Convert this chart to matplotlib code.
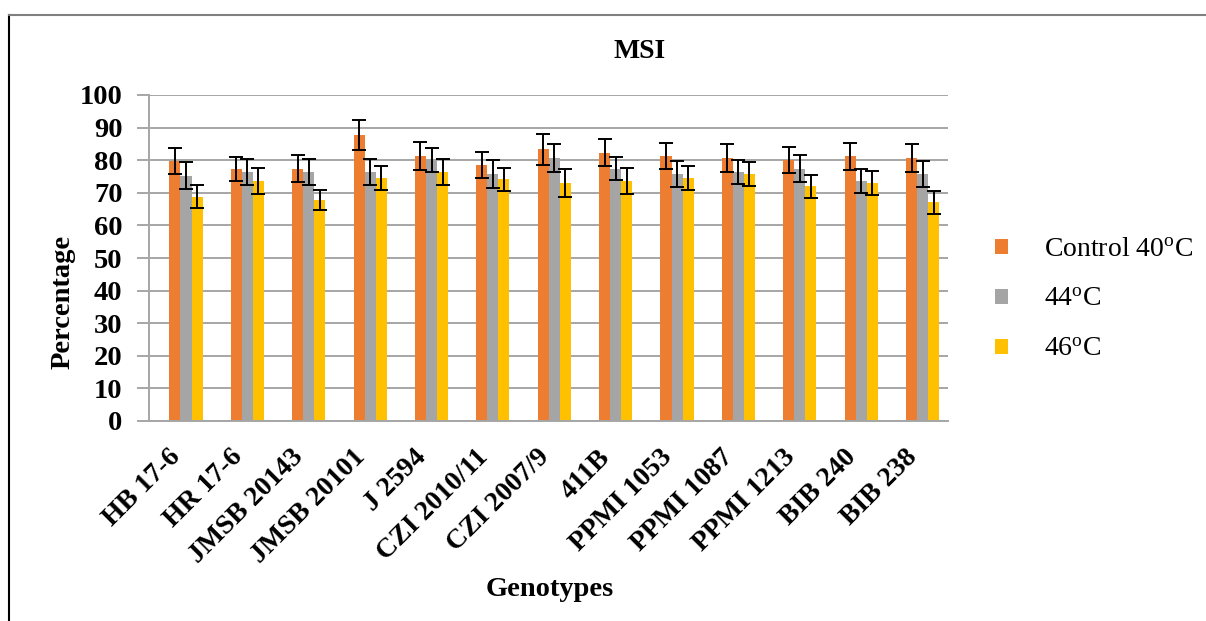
import matplotlib
matplotlib.use("Agg")
import matplotlib.pyplot as plt
import numpy as np
from matplotlib.patches import Patch
from matplotlib.lines import Line2D

plt.rcParams['font.family'] = ['Liberation Serif', 'DejaVu Serif']
plt.rcParams['mathtext.fontset'] = 'custom'
plt.rcParams['mathtext.rm'] = 'Liberation Serif'
plt.rcParams['mathtext.it'] = 'Liberation Serif:italic'
plt.rcParams['mathtext.bf'] = 'Liberation Serif:bold'

genotypes = ["HB 17-6", "HR 17-6", "JMSB 20143", "JMSB 20101", "J 2594", "CZI 2010/11",
             "CZI 2007/9", "411B", "PPMI 1053", "PPMI 1087", "PPMI 1213", "BIB 240", "BIB 238"]
control_40 = [79.8, 77.4, 77.4, 87.7, 81.3, 78.5, 83.3, 82.3, 81.3, 80.7, 80.1, 81.2, 80.7]
control_40_err = [4.0, 3.7, 4.2, 4.7, 4.2, 4.1, 4.8, 4.2, 4.1, 4.2, 4.1, 4.2, 4.2]
temp_44 = [75.3, 76.4, 76.4, 76.4, 80.1, 75.8, 80.7, 77.4, 75.8, 76.3, 77.4, 73.6, 75.8]
temp_44_err = [4.2, 4.0, 4.0, 4.0, 3.7, 4.2, 4.2, 3.6, 4.1, 3.7, 4.1, 3.6, 4.1]
temp_46 = [68.8, 73.6, 67.7, 74.6, 76.4, 74.1, 73.0, 73.6, 74.6, 75.8, 72.0, 73.0, 67.1]
temp_46_err = [3.5, 4.1, 3.1, 3.6, 4.0, 3.6, 4.2, 4.0, 3.6, 3.6, 3.5, 3.7, 3.6]
series_labels = ["Control 40$^{\\mathrm{o}}$C", "44$^{\\mathrm{o}}$C", "46$^{\\mathrm{o}}$C"]
yticks = [0, 10, 20, 30, 40, 50, 60, 70, 80, 90, 100]

colors = ["#ED7D31", "#A5A5A5", "#FFC000"]

W, H = 1206, 621
fig = plt.figure(figsize=(W / 100, H / 100), dpi=100)
ax = fig.add_axes([149 / W, 1 - 421 / H, (948 - 149) / W, (421 - 95) / H])

x = np.arange(len(genotypes))
bw = 0.18
data = [(control_40, control_40_err), (temp_44, temp_44_err), (temp_46, temp_46_err)]
for i, ((vals, errs), c) in enumerate(zip(data, colors)):
    ax.bar(x + (i - 1) * bw, vals, width=bw, color=c, zorder=2)
    ax.errorbar(x + (i - 1) * bw, vals, yerr=errs, fmt='none', ecolor='black',
                elinewidth=1.4, capsize=4.7, capthick=1.4, zorder=3)

ax.set_xlim(-0.603, 12.414)
ax.set_ylim(0, 100)
ax.set_yticks(yticks)
ax.set_yticklabels([str(v) for v in yticks], fontsize=20.5, fontweight='bold')
ax.yaxis.grid(True, color='#A6A6A6', linewidth=1.4, zorder=0)
ax.set_axisbelow(True)
ax.set_xticks(x)
ax.set_xticklabels(genotypes, rotation=45, ha='right', va='top', fontsize=20, fontweight='bold')
ax.tick_params(axis='x', length=0, pad=17)
ax.tick_params(axis='y', length=9, width=1.4, color='#A6A6A6', pad=10)
for s in ['top', 'right']:
    ax.spines[s].set_visible(False)
for s in ['left', 'bottom']:
    ax.spines[s].set_color('#A6A6A6')
    ax.spines[s].set_linewidth(1.4)

fig.text(640 / W, 1 - 52 / H, "MSI", ha='center', va='center', fontsize=20, fontweight='bold')
fig.text(63 / W, 1 - 302 / H, "Percentage", ha='center', va='center', rotation=90,
         fontsize=20.5, fontweight='bold')
fig.text(550 / W, 1 - 590 / H, "Genotypes", ha='center', va='center', fontsize=20.5, fontweight='bold')

handles = [Patch(facecolor=c, edgecolor='none') for c in colors]
fig.legend(handles, series_labels, loc='center left', bbox_to_anchor=(995 / W, 1 - 300 / H),
           frameon=False, fontsize=20, handlelength=0.45, handleheight=0.45,
           handletextpad=1.3, labelspacing=0.9, borderpad=0, borderaxespad=0)

fig.add_artist(Line2D([9 / W, 9 / W], [0, 1 - 15 / H], color='black', lw=1.5))
fig.add_artist(Line2D([9 / W, 1], [1 - 15 / H, 1 - 15 / H], color='#7F7F7F', lw=1.5))

fig.savefig("out.png", dpi=100)
